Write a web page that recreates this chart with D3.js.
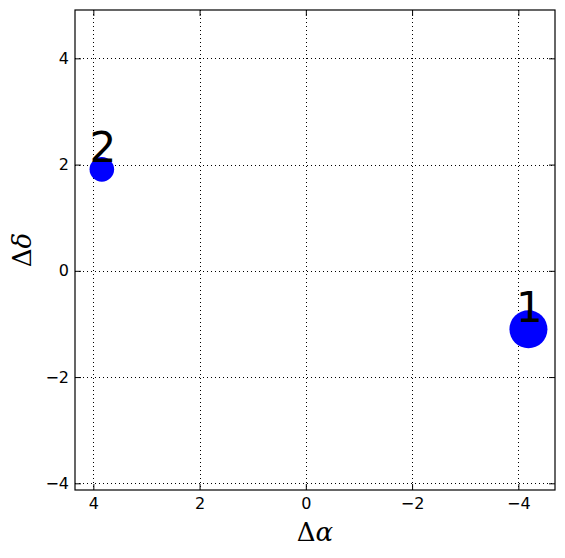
<!DOCTYPE html>
<html><head><meta charset="utf-8">
<script src="https://cdn.jsdelivr.net/npm/d3@7"></script>
<style>body{margin:0;background:#fff}</style>
</head><body>
<svg id="chart" width="565" height="558"></svg>
<script>
const labels = ["1", "2"];
const dAlpha = [-4.19, 3.84];
const dDelta = [-1.10, 1.91];
const sizes = [19, 12.3];
const xTicks = [4, 2, 0, -2, -4];
const yTicks = [-4, -2, 0, 2, 4];

const svg = d3.select("#chart");
const L = 75, R = 555, T = 10, B = 490;
const x = d3.scaleLinear().domain([4.345, -4.69]).range([L, R]);
const y = d3.scaleLinear().domain([-4.126, 4.91]).range([B, T]);

// grid
const g = svg.append("g");
g.selectAll(".gx").data(xTicks).join("line")
  .attr("x1", d => Math.round(x(d)) + 0.5).attr("x2", d => Math.round(x(d)) + 0.5)
  .attr("y1", T).attr("y2", B)
  .attr("stroke", "#000").attr("stroke-width", 1).attr("stroke-dasharray", "1,3");
g.selectAll(".gy").data(yTicks).join("line")
  .attr("y1", d => Math.round(y(d)) + 0.5).attr("y2", d => Math.round(y(d)) + 0.5)
  .attr("x1", L).attr("x2", R)
  .attr("stroke", "#000").attr("stroke-width", 1).attr("stroke-dasharray", "1,3");

// axes with inward ticks
const fmt = d => d < 0 ? "\u2212" + Math.abs(d) : String(d);
const axB = svg.append("g").attr("transform", `translate(0,${B})`)
  .call(d3.axisBottom(x).tickValues(xTicks).tickSizeInner(-6).tickSizeOuter(0).tickPadding(8).tickFormat(fmt));
const axT = svg.append("g").attr("transform", `translate(0,${T})`)
  .call(d3.axisTop(x).tickValues(xTicks).tickSizeInner(-6).tickSizeOuter(0).tickFormat(""));
const axL = svg.append("g").attr("transform", `translate(${L},0)`)
  .call(d3.axisLeft(y).tickValues(yTicks).tickSizeInner(-6).tickSizeOuter(0).tickPadding(6).tickFormat(fmt));
const axR = svg.append("g").attr("transform", `translate(${R},0)`)
  .call(d3.axisRight(y).tickValues(yTicks).tickSizeInner(-6).tickSizeOuter(0).tickFormat(""));
[axB, axT, axL, axR].forEach(a => {
  a.select(".domain").remove();
  a.selectAll("text").attr("font-family", "DejaVu Sans").attr("font-size", 16).attr("fill", "#000");
  a.selectAll("line").attr("stroke", "#000");
});

// points
svg.selectAll(".pt").data(labels).join("circle")
  .attr("cx", (d, i) => x(dAlpha[i])).attr("cy", (d, i) => y(dDelta[i]))
  .attr("r", (d, i) => sizes[i]).attr("fill", "#0000ff");

svg.selectAll(".lb").data(labels).join("text")
  .attr("x", (d, i) => x(dAlpha[i]) + 1).attr("y", (d, i) => y(dDelta[i]) - 7.5)
  .attr("text-anchor", "middle").attr("font-family", "DejaVu Sans").attr("font-size", 42)
  .attr("fill", "#000").text(d => d);

// frame
svg.append("rect").attr("x", L).attr("y", T).attr("width", R - L).attr("height", B - T)
  .attr("fill", "none").attr("stroke", "#000").attr("stroke-width", 1.2);

// axis labels
const xl = svg.append("text").attr("x", (L + R) / 2).attr("y", 541).attr("text-anchor", "middle")
  .attr("font-family", "DejaVu Serif").attr("font-size", 26).attr("fill", "#000");
xl.append("tspan").text("\u0394");
xl.append("tspan").attr("font-style", "italic").text("\u03b1");
const yl = svg.append("text").attr("transform", `translate(31,${(T + B) / 2}) rotate(-90)`)
  .attr("text-anchor", "middle").attr("font-family", "DejaVu Serif").attr("font-size", 26).attr("fill", "#000");
yl.append("tspan").text("\u0394");
yl.append("tspan").attr("font-style", "italic").text("\u03b4");
</script>
</body></html>
